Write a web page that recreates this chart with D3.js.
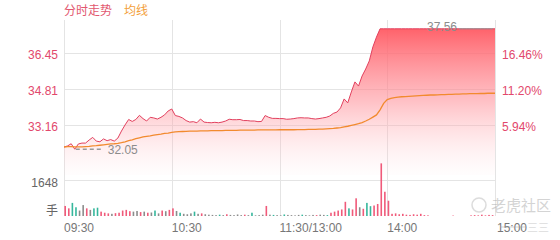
<!DOCTYPE html>
<html>
<head>
<meta charset="utf-8">
<script src="https://cdn.jsdelivr.net/npm/d3@7"></script>
<style>
  body { margin: 0; background: #fff; }
  svg { display: block; font-family: "Liberation Sans", Arial, "Noto Sans CJK SC", sans-serif; }
</style>
</head>
<body>
<div id="chart"></div>
<script>
// Data (one point every 2 minutes, 09:30 .. 15:00, 121 points)
const timeLabels = ['09:30', '10:30', '11:30/13:00', '14:00', '15:00'];
const priceTicks = [33.16, 34.81, 36.45];
const pctTicks = ['5.94%', '11.20%', '16.46%'];
const volTick = 1648;
const lowPrice = 32.05;
const highPrice = 37.56;

const prices = [
  32.15, 32.20, 32.30, 32.05, 32.29, 32.33, 32.33, 32.47, 32.59, 32.42,
  32.39, 32.52, 32.44, 32.49, 32.42, 32.56, 32.88, 33.16, 33.41, 33.32,
  33.41, 33.60, 33.45, 33.34, 33.51, 33.48, 33.43, 33.51, 33.62, 33.80,
  33.89, 33.59, 33.55, 33.48, 33.36, 33.29, 33.31, 33.26, 33.43, 33.29,
  33.27, 33.26, 33.28, 33.26, 33.29, 33.34, 33.42, 33.40, 33.40, 33.41,
  33.36, 33.36, 33.34, 33.34, 33.31, 33.32, 33.59, 33.51, 33.46, 33.46,
  33.45, 33.45, 33.42, 33.43, 33.45, 33.48, 33.49, 33.48, 33.48, 33.45,
  33.43, 33.45, 33.48, 33.51, 33.57, 33.69, 33.75, 33.94, 34.35, 34.17,
  34.67, 35.13, 34.94, 35.40, 35.72, 36.09, 36.73, 37.18, 37.56, 37.56,
  37.56, 37.56, 37.56, 37.56, 37.56, 37.56, 37.56, 37.56, 37.56, 37.56,
  37.56, 37.56, 37.56, 37.56, 37.56, 37.56, 37.56, 37.56, 37.56, 37.56,
  37.56, 37.56, 37.56, 37.56, 37.56, 37.56, 37.56, 37.56, 37.56, 37.56,
  37.56
];

const avgPrices = [
  32.15, 32.17, 32.17, 32.16, 32.16, 32.16, 32.17, 32.18, 32.20, 32.21,
  32.23, 32.25, 32.27, 32.29, 32.30, 32.32, 32.35, 32.39, 32.44, 32.48,
  32.53, 32.57, 32.61, 32.64, 32.66, 32.69, 32.72, 32.74, 32.77, 32.79,
  32.82, 32.84, 32.85, 32.86, 32.87, 32.88, 32.88, 32.88, 32.89, 32.89,
  32.89, 32.90, 32.90, 32.90, 32.90, 32.91, 32.91, 32.91, 32.91, 32.92,
  32.92, 32.92, 32.92, 32.92, 32.93, 32.93, 32.93, 32.93, 32.93, 32.93,
  32.94, 32.94, 32.94, 32.94, 32.94, 32.95, 32.95, 32.95, 32.96, 32.96,
  32.96, 32.97, 32.97, 32.98, 32.99, 33.00, 33.02, 33.04, 33.07, 33.10,
  33.14, 33.18, 33.22, 33.27, 33.34, 33.42, 33.52, 33.62, 33.85, 34.15,
  34.32, 34.38, 34.41, 34.43, 34.45, 34.46, 34.47, 34.48, 34.49, 34.50,
  34.51, 34.52, 34.53, 34.53, 34.54, 34.55, 34.55, 34.56, 34.56, 34.57,
  34.57, 34.58, 34.58, 34.59, 34.59, 34.59, 34.60, 34.60, 34.61, 34.61,
  34.61
];

const volumes = [
  460, 350, 600, 400, 250, 500, 350, 280, 350, 380,
  200, 150, 120, 100, 130, 150, 250, 280, 220, 200,
  230, 180, 200, 150, 160, 250, 120, 250, 220, 280,
  350, 230, 150, 100, 80, 120, 200, 100, 120, 80,
  60, 50, 40, 60, 40, 80, 50, 40, 70, 40,
  60, 40, 150, 30, 40, 60, 460, 60, 50, 40,
  30, 70, 50, 40, 30, 50, 60, 40, 30, 50,
  40, 60, 50, 40, 150, 200, 250, 300, 650, 350,
  300, 810, 400, 330, 600, 450, 480, 550, 2410, 1110,
  700, 100, 120, 80, 100, 60, 50, 80, 60, 100,
  40, 30, 0, 0, 0, 0, 0, 0, 20, 0,
  0, 0, 0, 30, 40, 30, 60, 30, 50, 40,
  0
];

// u = up (red), d = down (green), f = flat (grey)
const volDirs = [
  'u','u','d','d','f','f','u','f','d','d',
  'u','u','u','f','u','u','u','u','u','f',
  'f','u','f','u','f','d','f','u','f','u',
  'u','f','d','f','f','f','d','f','u','f',
  'f','f','f','d','f','u','f','f','f','f',
  'u','f','d','f','f','f','u','f','d','f',
  'f','d','f','f','f','f','d','f','f','f',
  'u','f','f','d','u','u','u','u','u','d',
  'u','u','f','u','d','d','u','u','u','u',
  'u','u','u','u','u','u','u','u','u','u',
  'u','u','u','u','u','u','u','u','u','u',
  'u','u','u','u','u','u','u','u','u','u',
  'u'
];

const W = 560, H = 240;
const left = 64, right = 495;

const svg = d3.select('#chart').append('svg')
  .attr('width', W)
  .attr('height', H);

// Scales
const xScale = d3.scaleLinear().domain([0, 240]).range([left, right]);
const yPrice = d3.scaleLinear().domain([31.51, 38.10]).range([161, 17]);
const yVol = d3.scaleLinear().domain([0, volTick]).range([216, 180]);

const minuteOf = (d, i) => i * 2;

// gradient for the price area
const defs = svg.append('defs');
const grad = defs.append('linearGradient')
  .attr('id', 'priceFill')
  .attr('gradientUnits', 'userSpaceOnUse')
  .attr('x1', 0).attr('x2', 0)
  .attr('y1', yPrice(highPrice)).attr('y2', 175);
grad.append('stop').attr('offset', '0%').attr('stop-color', '#ff5a63').attr('stop-opacity', 0.95);
grad.append('stop').attr('offset', '50%').attr('stop-color', '#ff8f98').attr('stop-opacity', 0.55);
grad.append('stop').attr('offset', '100%').attr('stop-color', '#ffd6da').attr('stop-opacity', 0.05);

// grid
const gridColor = '#e4e4e4';
svg.append('g').selectAll('line.h')
  .data(priceTicks)
  .enter().append('line')
    .attr('x1', left).attr('x2', right)
    .attr('y1', d => Math.round(yPrice(d)) + 0.5)
    .attr('y2', d => Math.round(yPrice(d)) + 0.5)
    .attr('stroke', gridColor);

svg.append('line')
  .attr('x1', left).attr('x2', right)
  .attr('y1', Math.round(yVol(volTick)) + 0.5).attr('y2', Math.round(yVol(volTick)) + 0.5)
  .attr('stroke', gridColor);

svg.append('g').selectAll('line')
  .data([0, 60, 120, 180, 240])
  .enter().append('line')
    .attr('x1', d => Math.round(xScale(d)) + 0.5)
    .attr('x2', d => Math.round(xScale(d)) + 0.5)
    .attr('y1', 20).attr('y2', 216)
    .attr('stroke', gridColor);

// price area + line
const area = d3.area()
  .x((d, i) => xScale(minuteOf(d, i)))
  .y0(175)
  .y1(d => yPrice(d));

svg.append('path')
  .datum(prices)
  .attr('d', area)
  .attr('fill', 'url(#priceFill)');

const line = d3.line()
  .x((d, i) => xScale(minuteOf(d, i)))
  .y(d => yPrice(d));

svg.append('path')
  .datum(prices)
  .attr('d', line)
  .attr('fill', 'none')
  .attr('stroke', '#e2405e')
  .attr('stroke-width', 1);

svg.append('path')
  .datum(avgPrices)
  .attr('d', line)
  .attr('fill', 'none')
  .attr('stroke', '#f28a2e')
  .attr('stroke-width', 1.3);

// high / low markers
const lowIdx = prices.indexOf(d3.min(prices));
svg.append('line')
  .attr('x1', xScale(lowIdx * 2) + 1).attr('x2', xScale(lowIdx * 2) + 28)
  .attr('y1', yPrice(lowPrice)).attr('y2', yPrice(lowPrice))
  .attr('stroke', '#999').attr('stroke-width', 1.5)
  .attr('stroke-dasharray', '4,3');
svg.append('text')
  .attr('x', xScale(lowIdx * 2) + 33)
  .attr('y', yPrice(lowPrice) + 5)
  .attr('font-size', 12).attr('fill', '#8c8c8c')
  .text(lowPrice.toFixed(2));

svg.append('text')
  .attr('x', 457)
  .attr('y', yPrice(highPrice) + 2)
  .attr('text-anchor', 'end')
  .attr('font-size', 12).attr('fill', '#8c8c8c')
  .text(highPrice.toFixed(2));
svg.append('line')
  .attr('x1', 459).attr('x2', 493)
  .attr('y1', yPrice(highPrice)).attr('y2', yPrice(highPrice))
  .attr('stroke', '#999').attr('stroke-width', 1);

// volume bars
const volColor = { u: '#f05a7a', d: '#36b79c', f: '#8c8c8c' };
svg.append('g').selectAll('rect')
  .data(volumes)
  .enter().append('rect')
    .attr('x', (d, i) => xScale(i * 2) + 0.4)
    .attr('width', 1.6)
    .attr('y', d => yVol(d))
    .attr('height', d => yVol(0) - yVol(d))
    .attr('fill', (d, i) => volColor[volDirs[i]]);

// left axis labels
svg.append('g').selectAll('text')
  .data(priceTicks)
  .enter().append('text')
    .attr('x', 58)
    .attr('y', d => yPrice(d) + 6)
    .attr('text-anchor', 'end')
    .attr('font-size', 12)
    .attr('fill', '#e2486c')
    .text(d => d.toFixed(2));

// right axis labels
svg.append('g').selectAll('text')
  .data(pctTicks)
  .enter().append('text')
    .attr('x', 502)
    .attr('y', (d, i) => yPrice(priceTicks[i]) + 6)
    .attr('font-size', 12)
    .attr('fill', '#e2486c')
    .text(d => d);

svg.append('text')
  .attr('x', 58).attr('y', yVol(volTick) + 7)
  .attr('text-anchor', 'end')
  .attr('font-size', 12).attr('fill', '#666')
  .text(volTick);

svg.append('text')
  .attr('x', 58).attr('y', 215)
  .attr('text-anchor', 'end')
  .attr('font-size', 12).attr('fill', '#666')
  .text('手');

// time labels
svg.append('g').selectAll('text')
  .data(timeLabels)
  .enter().append('text')
    .attr('x', (d, i) => i === 4 ? 497 : xScale(i * 60))
    .attr('y', 232)
    .attr('font-size', 12)
    .attr('fill', '#777')
    .text(d => d);

// title / legend
svg.append('text')
  .attr('x', 64).attr('y', 15)
  .attr('font-size', 12).attr('fill', '#e2576f')
  .text('分时走势');
svg.append('text')
  .attr('x', 124).attr('y', 15)
  .attr('font-size', 12).attr('fill', '#f3a03a')
  .text('均线');

// watermark
const wm = svg.append('g').attr('opacity', 0.5);
wm.append('circle')
  .attr('cx', 479).attr('cy', 205).attr('r', 7)
  .attr('fill', 'none').attr('stroke', '#bbb').attr('stroke-width', 1.5);
wm.append('text')
  .attr('x', 491).attr('y', 211)
  .attr('font-size', 15).attr('fill', '#aaa')
  .text('老虎社区');
wm.append('line')
  .attr('x1', 500).attr('x2', 526).attr('y1', 227).attr('y2', 227)
  .attr('stroke', '#aaa');
wm.append('text')
  .attr('x', 527).attr('y', 232)
  .attr('font-size', 11).attr('fill', '#bbb')
  .text('三三');
</script>
</body>
</html>
